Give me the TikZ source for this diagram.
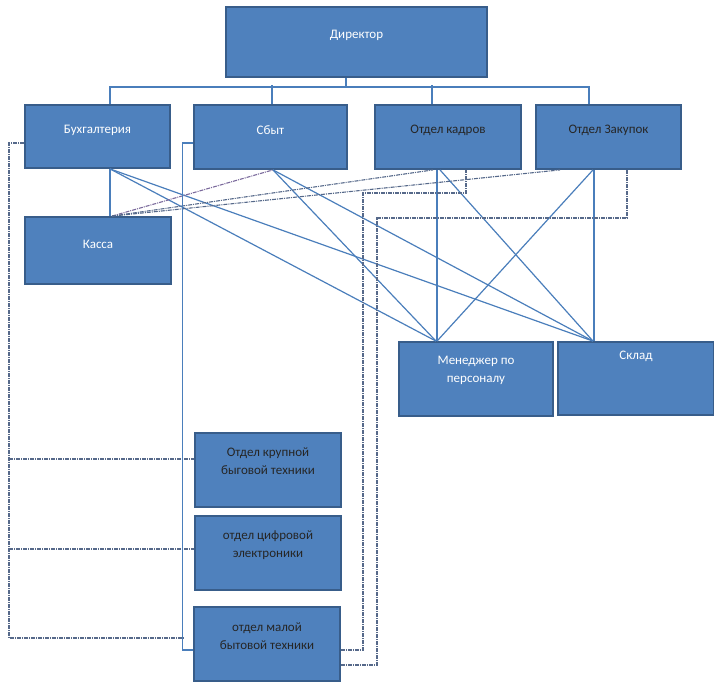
\documentclass[tikz,border=0pt]{standalone}
\usepackage{fontspec}
\setmainfont{Carlito}
\usepackage{xcolor}
\usepackage{tikz}

\definecolor{boxfill}{HTML}{4F81BD}
\definecolor{boxedge}{HTML}{385D8A}
\definecolor{linkblue}{HTML}{4A7EBB}
\definecolor{linkgray}{HTML}{56698A}
\definecolor{linkviolet}{HTML}{7B6A9C}

\begin{document}
\begin{tikzpicture}[x=1pt, y=-1pt,
    box/.style={draw=boxedge, fill=boxfill, line width=1.8pt, inner sep=0pt},
    wtxt/.style={anchor=center, text=white, font=\fontsize{13}{18}\selectfont, align=center},
    btxt/.style={wtxt, text=black!85},
    link/.style={draw=linkblue, line width=1.2pt},
    dlink/.style={draw=linkgray, line width=1.1pt, dash pattern=on 4pt off 1pt on 1pt off 1pt}]
    \useasboundingbox (0,0) rectangle (714,688);

    % Boxes
    \node [box, minimum width=261pt, minimum height=70pt, label={[wtxt, yshift=-29pt]north:Директор}] (dir) at (356.5,42) {};
    \node [box, minimum width=145pt, minimum height=63pt, label={[wtxt, yshift=-26pt]north:Бухгалтерия}] (buh) at (97.5,136.5) {};
    \node [box, minimum width=153pt, minimum height=64pt, label={[wtxt, yshift=-26pt]north:Сбыт}] (sbyt) at (270.5,137) {};
    \node [box, minimum width=146pt, minimum height=64pt, label={[btxt, yshift=-26pt]north:Отдел кадров}] (kadr) at (448,137) {};
    \node [box, minimum width=145pt, minimum height=64pt, label={[btxt, yshift=-26pt]north:Отдел Закупок}] (zak) at (608.5,137) {};
    \node [box, minimum width=146pt, minimum height=67pt, label={[wtxt, yshift=-28pt]north:Касса}] (kassa) at (98,250.5) {};
    \node [box, minimum width=154pt, minimum height=74pt, label={[wtxt, yshift=-29pt]north:Менеджер по\\персоналу}] (men) at (476,379) {};
    \node [box, minimum width=156pt, minimum height=73pt, label={[wtxt, yshift=-15pt]north:Склад}] (sklad) at (636,378.5) {};
    \node [box, minimum width=146pt, minimum height=74pt, label={[btxt, yshift=-29pt]north:Отдел крупной\\быговой техники}] (krup) at (268,470) {};
    \node [box, minimum width=146pt, minimum height=74pt, label={[btxt, yshift=-30pt]north:отдел цифровой\\электроники}] (cifr) at (268,553) {};
    \node [box, minimum width=146pt, minimum height=74pt, label={[btxt, yshift=-30pt]north:отдел малой\\бытовой техники}] (mal) at (267,644) {};

    % Director tree
    \draw [link] ([xshift=-10.5pt]dir.south) -- ++(0,9) coordinate (trunk);
    \draw [link] ([xshift=12.5pt]buh.north) |- (trunk) -| ([xshift=-19.5pt]zak.north);
    \draw [link] ([xshift=1.5pt]sbyt.north) -- ++(0,-19);
    \draw [link] ([xshift=-16pt]kadr.north) -- ++(0,-19);
    \draw [link] ([xshift=12.5pt]buh.south) -- ([xshift=12pt]kassa.north);

    % Crossing lines
    \draw [link] ([xshift=12.5pt]buh.south) -- ([xshift=-40pt]men.north);
    \draw [link] ([xshift=12.5pt]buh.south) -- ([xshift=-43pt]sklad.north);
    \draw [link] ([xshift=2.5pt]sbyt.south) -- ([xshift=-40pt]men.north);
    \draw [link] ([xshift=2.5pt]sbyt.south) -- ([xshift=-43pt]sklad.north);
    \draw [link] ([xshift=-11pt]kadr.south) -- ([xshift=-39pt]men.north);
    \draw [link] ([xshift=-8pt]kadr.south) -- ([xshift=-43pt]sklad.north);
    \draw [link] ([xshift=-14.5pt]zak.south) -- ([xshift=-42pt]sklad.north);
    \draw [link] ([xshift=-15.5pt]zak.south) -- ([xshift=-39pt]men.north);
    \draw [dlink, draw=linkviolet] ([xshift=14pt]kassa.north) -- ([xshift=2.5pt]sbyt.south);
    \draw [dlink] ([xshift=14pt]kassa.north) -- ([xshift=-15pt]kadr.south);
    \draw [dlink] ([xshift=14pt]kassa.north) -- ([xshift=-48.5pt]zak.south);

    % Side lines
    \draw [dlink] ([yshift=-6.5pt]buh.west) -| (9,638) -- (183,638);
    \draw [dlink] (9,459) -- ([yshift=11pt]krup.west);
    \draw [dlink] (9,549) -- ([yshift=4pt]cifr.west);
    \draw [link] ([yshift=-6pt]sbyt.west) -- ++(-11,0) |- ([yshift=-6pt]mal.west);
    \draw [dlink] ([yshift=-6pt]mal.east) -| (363,193) -| ([xshift=18pt]kadr.south);
    \draw [dlink] ([yshift=-21pt]mal.east) -| (377,218) -| ([xshift=18.5pt]zak.south);
\end{tikzpicture}
\end{document}
